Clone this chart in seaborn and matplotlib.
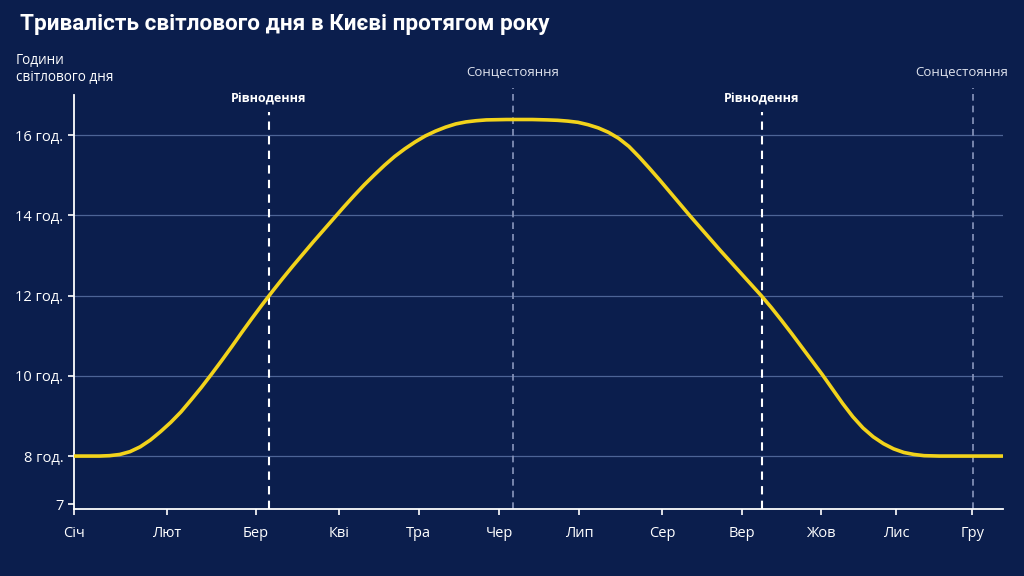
import matplotlib
matplotlib.use("Agg")
import pandas as pd
import seaborn as sns
import matplotlib.pyplot as plt

# day of year vs hours of daylight
DAYS = [0, 10, 14, 18, 22, 26, 30, 34, 38, 42, 46, 50, 54, 58, 62, 66, 70, 74, 78,
        82, 86, 90, 94, 98, 102, 106, 110, 114, 118, 122, 126, 130, 134, 138, 142,
        146, 150, 154, 158, 162, 170, 180, 186, 190, 194, 198, 202, 206, 210, 214,
        218, 222, 226, 230, 234, 238, 242, 246, 250, 254, 258, 262, 266, 270, 274,
        278, 282, 286, 290, 294, 298, 302, 306, 310, 314, 318, 322, 326, 330, 334,
        340, 352, 365]
HOURS = [8.00, 8.00, 8.01, 8.04, 8.11, 8.23, 8.40, 8.61, 8.84, 9.10, 9.40, 9.71,
         10.04, 10.38, 10.73, 11.09, 11.44, 11.78, 12.11, 12.43, 12.74, 13.04,
         13.34, 13.63, 13.92, 14.21, 14.49, 14.76, 15.01, 15.25, 15.47, 15.66,
         15.83, 15.98, 16.10, 16.20, 16.28, 16.33, 16.36, 16.38, 16.39, 16.39,
         16.38, 16.37, 16.35, 16.32, 16.26, 16.18, 16.07, 15.92, 15.72, 15.46,
         15.18, 14.89, 14.59, 14.29, 13.99, 13.70, 13.41, 13.12, 12.84, 12.56,
         12.28, 12.00, 11.70, 11.38, 11.05, 10.71, 10.37, 10.03, 9.67, 9.31, 8.98,
         8.70, 8.48, 8.31, 8.18, 8.09, 8.04, 8.01, 8.00, 8.00, 8.00]

MONTHS = ["Січ", "Лют", "Бер", "Кві", "Тра", "Чер", "Лип", "Сер", "Вер", "Жов", "Лис", "Гру"]
MONTH_POS = [0, 36.5, 71.5, 104, 135.5, 167, 198.5, 231, 262.5, 293.5, 323, 353]

Y_TICKS = [6.8, 8, 10, 12, 14, 16]
Y_LABELS = ["7", "8 год.", "10 год.", "12 год.", "14 год.", "16 год."]

EVENTS = ["Рівнодення", "Сонцестояння", "Рівнодення", "Сонцестояння"]
EVENT_DAYS = [76.6, 172.5, 270.3, 353.2]

BG = "#0b1e4d"
YELLOW = "#f2d31b"

sns.set_theme(style="dark")
plt.rcParams["font.family"] = ["Open Sans", "DejaVu Sans"]

df = pd.DataFrame({"day": DAYS, "hours": HOURS})

fig = plt.figure(figsize=(10.24, 5.76), dpi=100, facecolor=BG)
ax = fig.add_axes([0.0723, 0.1163, 0.9072, 0.7187])
ax.set_facecolor(BG)

for y in [8, 10, 12, 14, 16]:
    ax.axhline(y, color="#4d6496", lw=0.9, zorder=1)

for name, d in zip(EVENTS, EVENT_DAYS):
    if name == "Рівнодення":
        ax.axvline(d, ymin=0, ymax=0.959, color="white", lw=1.5, ls=(0, (4, 3)),
                   clip_on=False, zorder=2)
        ax.annotate(name, xy=(d, 0.99), xycoords=("data", "axes fraction"),
                    ha="center", va="center", color="white", fontsize=9,
                    fontweight="bold")
    else:
        ax.axvline(d, ymin=0, ymax=1.017, color="#8a97bd", lw=1.2, ls=(0, (4, 3)),
                   clip_on=False, zorder=2)
        off = -8 if d > 300 else 0
        ax.annotate(name, xy=(d, 1.04), xycoords=("data", "axes fraction"),
                    xytext=(off, 0), textcoords="offset points", ha="center",
                    va="bottom", color="#dfe3ee", fontsize=9.5)

sns.lineplot(data=df, x="day", y="hours", color=YELLOW, lw=2.6, ax=ax, zorder=3,
             solid_joinstyle="round")

ax.set_xlim(0, 365)
ax.set_ylim(6.68, 17.0)
ax.set_xticks(MONTH_POS)
ax.set_xticklabels(MONTHS)
ax.set_yticks(Y_TICKS)
ax.set_yticklabels(Y_LABELS)
ax.set_xlabel("")
ax.set_ylabel("")
ax.tick_params(colors="white", labelcolor="white", labelsize=10.5, length=4, width=1.2,
               direction="out", bottom=True, left=True)
ax.tick_params(axis="x", pad=8)
ax.grid(False)

for side in ["top", "right"]:
    ax.spines[side].set_visible(False)
for side in ["left", "bottom"]:
    ax.spines[side].set_color("white")
    ax.spines[side].set_linewidth(1.3)

fig.text(0.0195, 0.958, "Тривалість світлового дня в Києві протягом року",
         color="white", fontsize=16.2, fontweight="bold", va="center", ha="left",
         family=["Roboto", "DejaVu Sans"])
fig.text(0.0156, 0.88, "Години\nсвітлового дня", color="white", fontsize=9.8,
         va="center", ha="left", linespacing=1.2)

fig.savefig("out.png", dpi=100, facecolor=BG)
